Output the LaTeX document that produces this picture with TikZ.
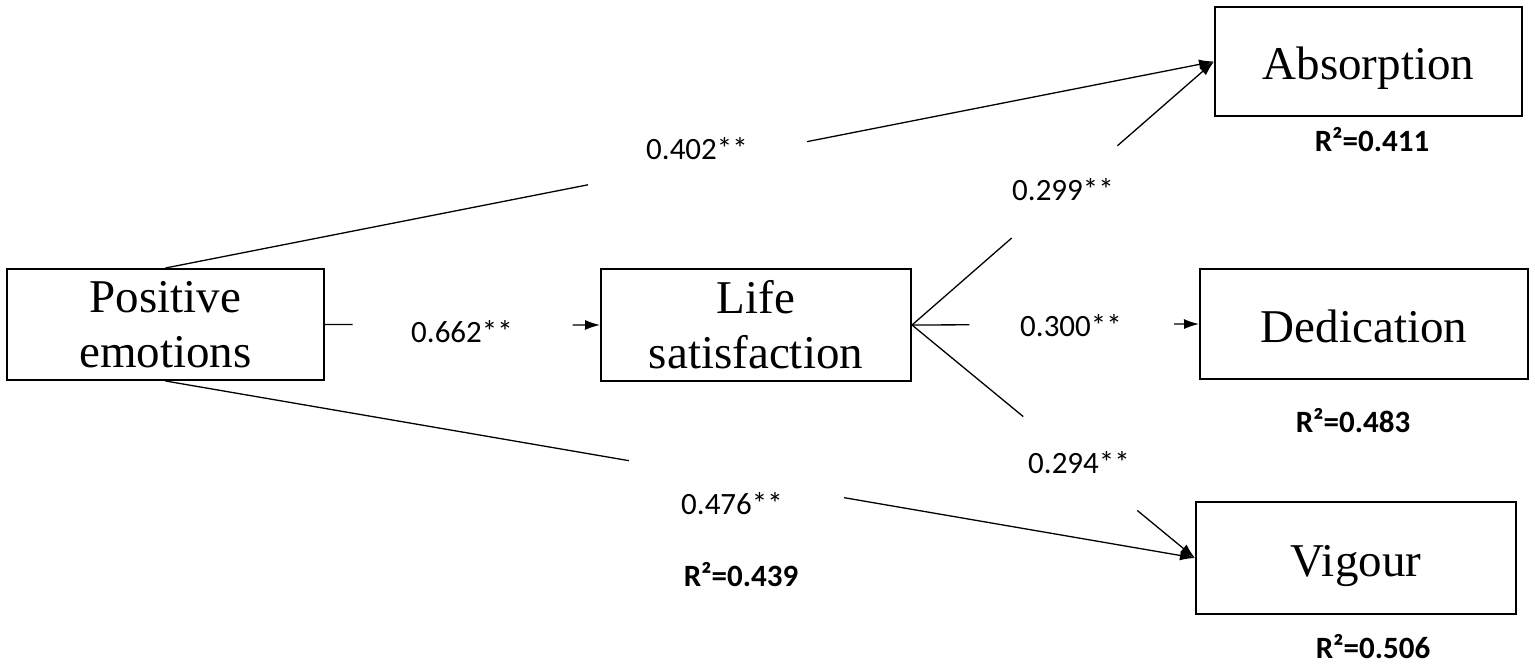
\documentclass[tikz,border=0pt]{standalone}
\usepackage{fontspec}
\setmainfont{Liberation Serif}
\newfontfamily\coeffont{Carlito}
\usetikzlibrary{arrows.meta}

\tikzset{every picture/.style={line width=1.3pt}}
\tikzset{var node/.style={draw, line width=2pt, inner sep=0pt, align=center, font=\fontsize{47}{55}\selectfont}}
\tikzset{outcome node/.style={var node, text height=45pt, text depth=9pt}}
\tikzset{coef node/.style={inner sep=0pt, font=\coeffont\fontsize{31}{36}\selectfont}}
\tikzset{rsq node/.style={inner sep=0pt, font=\coeffont\bfseries\fontsize{31}{36}\selectfont}}
\tikzset{path arrow/.style={-{Latex[length=15pt,width=10pt]}}}

\begin{document}
\begin{tikzpicture}[x=1pt,y=-1pt]
        \useasboundingbox (0,0) rectangle (1535,666);
        % variables
        \node[var node, minimum width=317pt, minimum height=111pt] (pe) at (165.5,324.5) {Positive\\emotions};
        \node[var node, minimum width=310pt, minimum height=112pt] (ls) at (756,325) {Life\\satisfaction};
        \node[outcome node, minimum width=307pt, minimum height=109pt] (abs) at (1368.5,61.5) {Absorption};
        \node[outcome node, minimum width=328pt, minimum height=110pt] (ded) at (1364,324) {Dedication};
        \node[outcome node, minimum width=320pt, minimum height=112pt] (vig) at (1356,558) {Vigour};
        % coefficients
        \node[coef node] (c662) at (462,332) {0.662**};
        \node[coef node] (c402) at (697,149) {0.402**};
        \node[coef node] (c476) at (732,504) {0.476**};
        \node[coef node] (c299) at (1063,190) {0.299**};
        \node[coef node] (c300) at (1071,326) {0.300**};
        \node[coef node] (c294) at (1079,463) {0.294**};
        % explained variance
        \node[rsq node] (rls) at (741,575) {R²=0.439};
        \node[rsq node] (rabs) at (1372,140) {R²=0.411};
        \node[rsq node] (rded) at (1353,421) {R²=0.483};
        \node[rsq node] (rvig) at (1373,647) {R²=0.506};
        % paths, broken where the coefficient sits
        \path (pe.east) -- (ls.west) coordinate[pos=0.10] (pl1) coordinate[pos=0.90] (pl2);
        \path (pe.north) -- (abs.west) coordinate[pos=0.403] (pa1) coordinate[pos=0.612] (pa2);
        \path (pe.south) -- (vig.west) coordinate[pos=0.45] (pv1) coordinate[pos=0.659] (pv2);
        \path (ls.east) -- (abs.west) coordinate[pos=0.33] (la1) coordinate[pos=0.68] (la2);
        \path (ls.east) -- (ded.west) coordinate[pos=0.20] (ld1) coordinate[pos=0.913] (ld2);
        \path (ls.east) -- (vig.west) coordinate[pos=0.393] (lv1) coordinate[pos=0.796] (lv2);
        \draw (pe.east) -- (pl1);
        \draw[path arrow] (pl2) -- (ls.west);
        \draw (pe.north) -- (pa1);
        \draw[path arrow] (pa2) -- (abs.west);
        \draw (pe.south) -- (pv1);
        \draw[path arrow] (pv2) -- (vig.west);
        \draw (ls.east) -- (la1);
        \draw[path arrow] (la2) -- (abs.west);
        \draw (ls.east) -- (ld1);
        \draw[path arrow] (ld2) -- (ded.west);
        \draw (ls.east) -- (lv1);
        \draw[path arrow] (lv2) -- (vig.west);
    \end{tikzpicture}
\end{document}
